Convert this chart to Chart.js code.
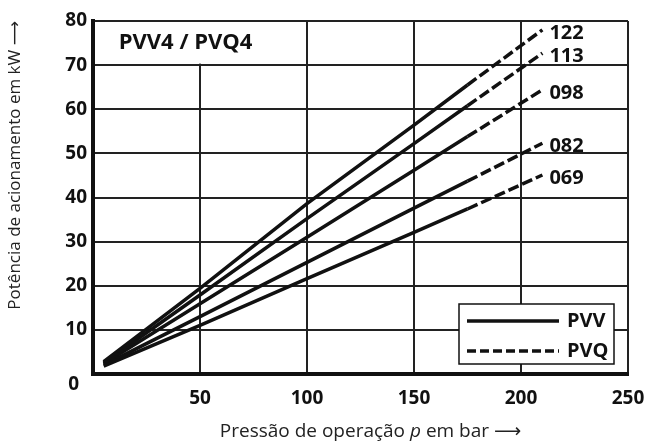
<!DOCTYPE html>
<html>
<head>
<meta charset="utf-8">
<script src="https://cdn.jsdelivr.net/npm/chart.js@4.4.0/dist/chart.umd.min.js"></script>
<style>
  html, body { margin: 0; padding: 0; background: #fff; }
</style>
</head>
<body>
<canvas id="chart" width="651" height="445"></canvas>
<script>
const pressure = [5, 50, 100, 150, 175, 210];

// drive power (kW) per pump size
const power122 = [2.8, 19.4, 38.6, 56.4, 65.5, 78.0];
const power113 = [2.5, 17.9, 35.2, 52.2, 60.8, 72.7];
const power098 = [2.3, 15.9, 31.0, 46.2, 53.8, 64.4];
const power082 = [2.0, 13.0, 25.3, 37.6, 43.7, 52.3];
const power069 = [1.8, 11.0, 21.6, 32.1, 37.4, 45.1];

const sizeLabels = ['122', '113', '098', '082', '069'];
const sizeSeries = [power122, power113, power098, power082, power069];

// past this pressure only PVQ applies (dashed)
const pvvLimit = 175;

const FONT = "'Open Sans', 'DejaVu Sans', sans-serif";
const INK = '#111';

const datasets = sizeSeries.map((values, i) => ({
    label: sizeLabels[i],
    data: pressure.map((p, j) => ({ x: p, y: values[j] })),
    borderColor: INK,
    borderWidth: 3.5,
    pointRadius: 0,
    tension: 0,
    borderCapStyle: 'butt',
    segment: {
        borderDash: ctx => ctx.p0.parsed.x >= pvvLimit ? [11, 4] : undefined
    }
}));

const frameBox = {
    id: 'frameBox',
    beforeDatasetsDraw(chart) {
        const { ctx, scales: { x, y } } = chart;
        // title box: no vertical grid line through it
        const gx = x.getPixelForValue(50);
        const top = y.getPixelForValue(80);
        const bottom = y.getPixelForValue(70);
        ctx.save();
        ctx.fillStyle = '#fff';
        ctx.fillRect(gx - 2, top - 6, 4, bottom - top + 4.5);
        ctx.strokeStyle = '#222';
        ctx.lineWidth = 2;
        ctx.beginPath();
        ctx.moveTo(gx - 3, top);
        ctx.lineTo(gx + 3, top);
        ctx.stroke();
        ctx.fillStyle = INK;
        ctx.font = `bold 22px ${FONT}`;
        ctx.textBaseline = 'middle';
        ctx.textAlign = 'left';
        ctx.fillText('PVV4 / PVQ4', x.getPixelForValue(12), (top + bottom) / 2);
        ctx.restore();
    },
    afterDatasetsDraw(chart) {
        const { ctx, chartArea } = chart;
        ctx.save();

        // size labels at the end of each curve
        ctx.fillStyle = INK;
        ctx.font = `bold 20px ${FONT}`;
        ctx.textBaseline = 'middle';
        ctx.textAlign = 'left';
        chart.data.datasets.forEach((ds, i) => {
            const pts = chart.getDatasetMeta(i).data;
            const last = pts[pts.length - 1];
            ctx.fillText(ds.label, last.x + 7, last.y + 3);
        });

        // legend box
        const w = 155, h = 60;
        const bx = chartArea.right - 14 - w;
        const by = chartArea.bottom - 10 - h;
        ctx.fillStyle = '#fff';
        ctx.fillRect(bx, by, w, h);
        ctx.strokeStyle = INK;
        ctx.lineWidth = 1.5;
        ctx.strokeRect(bx, by, w, h);

        ctx.lineWidth = 3.5;
        ctx.lineCap = 'butt';
        ctx.beginPath();
        ctx.moveTo(bx + 8, by + 17);
        ctx.lineTo(bx + 100, by + 17);
        ctx.stroke();
        ctx.setLineDash([9, 4]);
        ctx.beginPath();
        ctx.moveTo(bx + 8, by + 47);
        ctx.lineTo(bx + 100, by + 47);
        ctx.stroke();
        ctx.setLineDash([]);

        ctx.fillStyle = INK;
        ctx.font = `bold 20px ${FONT}`;
        ctx.fillText('PVV', bx + 108, by + 17);
        ctx.fillText('PVQ', bx + 108, by + 47);
        ctx.restore();
    },
    afterDraw(chart) {
        const { ctx, chartArea, scales: { y } } = chart;
        ctx.save();
        ctx.fillStyle = INK;

        // the zero of the power axis sits a bit below the corner
        ctx.font = `bold 19px ${FONT}`;
        ctx.textAlign = 'right';
        ctx.textBaseline = 'middle';
        ctx.fillText('0', chartArea.left - 14, y.getPixelForValue(0) + 11);

        // x axis title, with the symbol p in italics
        const parts = [
            ['Pressão de operação ', `19px ${FONT}`],
            ['p', `italic 19px ${FONT}`],
            [' em bar ⟶', `19px ${FONT}`]
        ];
        let total = 0;
        parts.forEach(([t, f]) => { ctx.font = f; total += ctx.measureText(t).width; });
        let px = (chartArea.left + chartArea.right) / 2 + 10 - total / 2;
        ctx.textAlign = 'left';
        ctx.textBaseline = 'alphabetic';
        ctx.fillStyle = '#222';
        parts.forEach(([t, f]) => {
            ctx.font = f;
            ctx.fillText(t, px, 437);
            px += ctx.measureText(t).width;
        });
        ctx.restore();
    }
};

new Chart(document.getElementById('chart'), {
    type: 'line',
    data: { datasets },
    options: {
        responsive: false,
        animation: false,
        layout: { padding: { top: 21, right: 23, left: 0, bottom: 0 } },
        plugins: {
            legend: { display: false },
            tooltip: { enabled: false }
        },
        scales: {
            x: {
                type: 'linear',
                min: 0,
                max: 250,
                afterFit: s => {
                    s.height = 71;
                    s.paddingLeft = 0;
                    s.paddingRight = 0;
                },
                ticks: {
                    stepSize: 50,
                    padding: 13,
                    color: INK,
                    font: { family: FONT, size: 19, weight: 'bold' },
                    callback: v => v === 0 ? '' : v
                },
                grid: { color: '#222', lineWidth: 2, drawTicks: false },
                border: { color: INK, width: 4 }
            },
            y: {
                min: 0,
                max: 80,
                afterFit: s => {
                    s.width = 93;
                    s.paddingTop = 0;
                    s.paddingBottom = 0;
                },
                ticks: {
                    stepSize: 10,
                    padding: 6,
                    color: INK,
                    font: { family: FONT, size: 19, weight: 'bold' },
                    callback: v => v === 0 ? '' : v
                },
                grid: { color: '#222', lineWidth: 2, drawTicks: false },
                border: { color: INK, width: 4 },
                title: {
                    display: true,
                    text: 'Potência de acionamento em kW ⟶',
                    align: 'end',
                    color: '#222',
                    font: { family: FONT, size: 17 },
                    padding: { top: 5, bottom: 0 }
                }
            }
        }
    },
    plugins: [frameBox]
});
</script>
</body>
</html>
